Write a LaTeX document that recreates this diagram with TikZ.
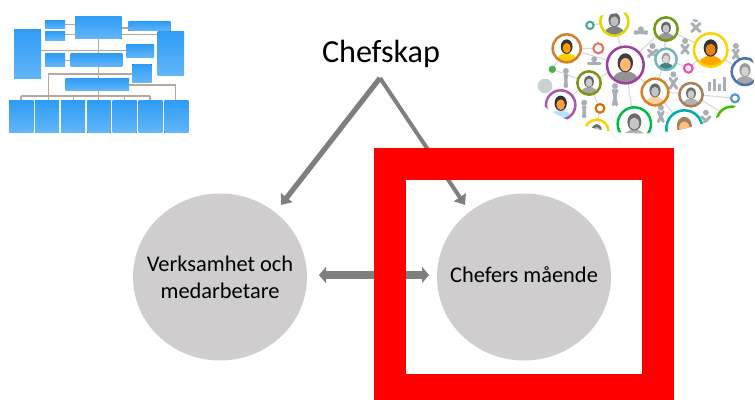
\documentclass[tikz,border=0pt]{standalone}
\usepackage{fontspec}
\setmainfont{Carlito}
\usetikzlibrary{arrows.meta,shapes.geometric}
\definecolor{arrowgrey}{HTML}{7F7F7F}
\definecolor{bubble}{HTML}{CFCDCD}
\definecolor{orgblue}{HTML}{2F9DF6}
\definecolor{orgline}{HTML}{B9A79C}
\definecolor{netline}{HTML}{D5D9DB}
\definecolor{netgrey}{HTML}{A9B0B5}
\newcommand{\orgbox}[4]{\fill[top color=orgblue,bottom color=orgblue!75!white] (#1,#2) rectangle (#3,#4);}
% x y radius ring skin hair body
\newcommand{\person}[7]{%
  \begin{scope}
    \path[clip] (#1,#2) circle [radius=#3*0.25pt];
    \fill[white] (#1,#2) circle [radius=#3*0.25pt];
    \fill[#7] (#1,#2+#3*1.05) ellipse [x radius=#3*.78*0.25pt,y radius=#3*.72*0.25pt];
    \fill[#6] (#1,#2-#3*.12) ellipse [x radius=#3*.42*0.25pt,y radius=#3*.52*0.25pt];
    \fill[#5] (#1,#2-#3*.02) ellipse [x radius=#3*.29*0.25pt,y radius=#3*.36*0.25pt];
  \end{scope}
  \draw[#4,line width=1.9pt] (#1,#2) circle [radius=#3*0.25pt];}
\newcommand{\ringdot}[4]{\draw[#4,line width=1.6pt,fill=white] (#1,#2) circle [radius=#3*0.25pt];}
\tikzset{
  bubblenode/.style={ellipse,fill=bubble,minimum width=130.5pt,minimum height=125.25pt,inner sep=-14pt,align=center,font=\fontsize{16.8}{20}\selectfont,text=black},
  flow/.style={draw=arrowgrey,-{Triangle[length=7pt,width=10.5pt]}},
  both/.style={draw=arrowgrey,line width=6pt,{Triangle[length=5.25pt,width=12pt]}-{Triangle[length=5.25pt,width=12pt]}},
  orglink/.style={draw=orgline,line width=.8pt},
  netlink/.style={draw=netline,line width=.8pt},
  figure/.style={draw=netgrey,line width=2.2pt,line cap=round}
}
\begin{document}
\begin{tikzpicture}[x=0.75pt,y=-0.75pt]
\useasboundingbox (0,0) rectangle (755,399);
\fill[white] (0,0) rectangle (755,399);

% organisation chart
\begin{scope}[x=0.25pt,y=-0.25pt]
  \draw[orglink] (295,117) -- (295,303);
  \draw[orglink] (123,152) -- (378,152);
  \draw[orglink] (195,74) -- (225,74) (195,104) -- (225,104);
  \draw[orglink] (365,84) -- (385,84) (365,104) -- (473,104);
  \draw[orglink] (195,181) -- (212,181);
  \draw[orglink] (145,222) -- (397,222) (145,222) -- (145,303);
  \draw[orglink] (387,255) -- (527,255) -- (527,303);
  \draw[orglink] (63,288) -- (450,288);
  \foreach \q in {63,220,374,450}{\draw[orglink] (\q,288) -- (\q,303);}
  \orgbox{225}{50}{365}{117}
  \orgbox{135}{62}{195}{87}
  \orgbox{135}{95}{195}{122}
  \orgbox{385}{65}{512}{93}
  \orgbox{42}{90}{123}{237}
  \orgbox{473}{95}{552}{228}
  \orgbox{378}{135}{462}{172}
  \orgbox{135}{162}{195}{200}
  \orgbox{212}{162}{367}{200}
  \orgbox{397}{193}{455}{247}
  \orgbox{197}{236}{387}{272}
  \orgbox{27}{303}{100}{398}
  \orgbox{105}{303}{177}{398}
  \orgbox{183}{303}{255}{398}
  \orgbox{262}{303}{332}{398}
  \orgbox{338}{303}{410}{398}
  \orgbox{416}{303}{487}{398}
  \orgbox{493}{303}{565}{398}
\end{scope}

% people network
\begin{scope}[shift={(525,0)},x=0.25pt,y=-0.25pt]
  \clip (345,218) ellipse [x radius=345*0.25pt,y radius=182*0.25pt];
  \draw[netlink] (125,145) -- (300,195) -- (420,85) -- (555,150) -- (655,215);
  \draw[netlink] (268,65) -- (300,195) -- (190,248) -- (105,315);
  \draw[netlink] (300,195) -- (390,275) -- (498,282) -- (630,295);
  \draw[netlink] (300,195) -- (328,370) (390,275) -- (478,380) (498,282) -- (620,355);
  \draw[netlink] (82,208) -- (190,248) -- (225,325) -- (215,385);
  \draw[netlink] (420,175) -- (490,205) -- (555,150) (420,175) -- (420,85) (420,175) -- (390,275);
  \draw[netlink] (82,208) -- (125,145) (195,76) -- (268,65) (220,145) -- (125,145);
  \foreach \a/\b/\c/\d in {330/100/365/95,190/190/225/190,120/225/125/260,370/150/395/170,470/135/490/160,500/70/525/95,435/235/455/265,265/270/275/315,175/320/180/350,400/335/415/365,530/350/555/375,625/150/640/175}{
    \draw[figure] (\a,\b) -- (\c,\d);
    \draw[figure] (\c,\b) -- (\a,\d);
    \fill[netgrey] (\a/2+\c/2,\b-12) circle [radius=9*0.25pt];}
  \fill[netgrey!60] (60,258) circle [radius=22*0.25pt];
  \foreach \q/\h in {550/25,565/35,580/20,595/40}{\fill[netgrey] (\q,272-\h) rectangle (\q+9,272);}
  \ringdot{195}{76}{11}{teal!70!white}
  \ringdot{220}{145}{15}{red!55!brown!70!white}
  \fill[green!55!black!70!white] (82,208) circle [radius=11*0.25pt];
  \ringdot{490}{205}{13}{magenta!70!white}
  \ringdot{630}{295}{12}{cyan!55!blue!70!white}
  \ringdot{225}{325}{13}{orange!85!black}
  \person{268}{65}{42}{yellow!75!olive}{gray!50}{gray!85!black}{gray}
  \person{423}{87}{35}{olive!65!green}{gray!45}{gray!80!black}{gray!80}
  \person{125}{145}{42}{brown!70!orange}{orange!75!yellow}{black!80}{yellow!70!orange}
  \person{301}{195}{55}{violet!75}{orange!55!white}{black!75}{gray!85}
  \person{423}{178}{32}{teal!55}{gray!30}{gray!75}{teal!45!gray}
  \person{557}{150}{50}{yellow!70!orange}{orange!70!brown}{black!80}{orange!70!yellow}
  \person{660}{215}{40}{cyan!45!blue!70!gray}{gray!35}{gray!80}{gray!70}
  \person{192}{249}{35}{olive!70!green}{gray!40}{gray!80!black}{gray!70}
  \person{390}{276}{40}{brown!60!orange}{gray!45}{gray!85!black}{orange!35!white}
  \person{498}{284}{35}{brown!60!gray}{gray!40}{gray!85!black}{gray!60}
  \person{107}{315}{44}{violet!65}{orange!75!white}{black!80}{cyan!30!white}
  \person{328}{372}{50}{green!50!teal}{gray!45}{gray!85!black}{gray!60}
  \person{478}{385}{54}{teal!65!cyan}{orange!50!white}{gray!50!brown}{gray!60}
  \person{215}{395}{36}{yellow!70!orange}{gray!45}{gray!85!black}{gray!50}
  \person{620}{365}{45}{green!50!olive}{gray!35}{gray!70}{gray!50}
\end{scope}

% diagram
\node[font=\fontsize{24.1}{29}\selectfont,text=black] (title) at (381,54) {Chefskap};
\coordinate (apex) at (380,78);
\coordinate (leftend) at (281,205);
\coordinate (rightend) at (465,205);
\node[bubblenode] (verk) at (220,277) {Verksamhet och\\medarbetare};
\node[bubblenode] (chef) at (524,277) {\raisebox{3pt}{Chefers mående}};
\coordinate (bothleft) at (319,275);
\coordinate (bothright) at (429,275);
\draw[flow,line width=3.9pt] (apex) -- (leftend);
\draw[flow,line width=3pt] (apex) -- (rightend);
\draw[both] (bothleft) -- (bothright);
\draw[red,line width=24pt] (390,163.5) rectangle (657.5,390);
\end{tikzpicture}
\end{document}
